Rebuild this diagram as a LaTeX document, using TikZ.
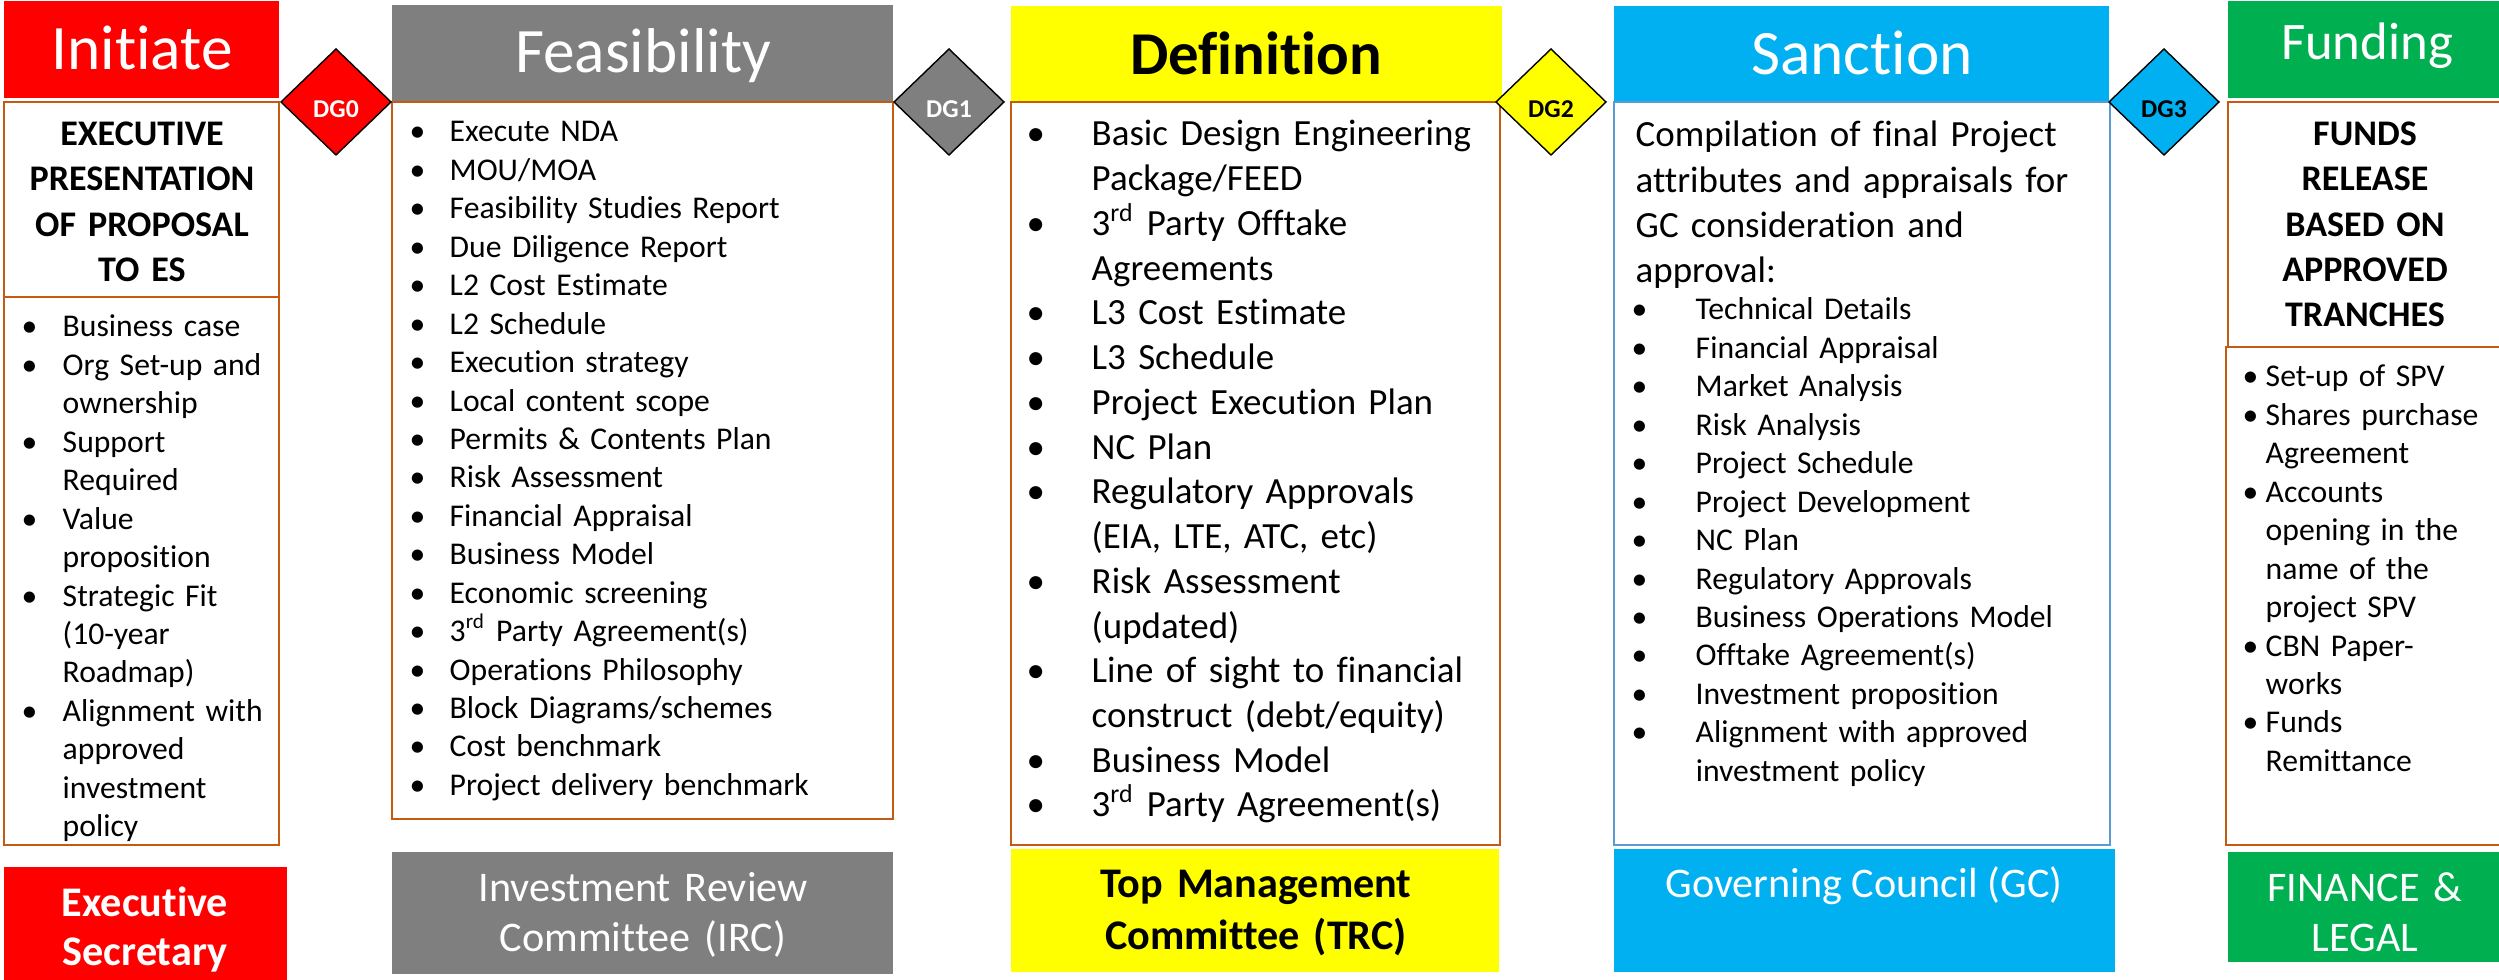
\documentclass[tikz,border=0pt]{standalone}
\usepackage{fontspec}
\setmainfont{Carlito}[Ligatures={NoCommon}]

\definecolor{initred}{RGB}{255,0,0}
\definecolor{feasgray}{RGB}{127,127,127}
\definecolor{defyellow}{RGB}{255,255,0}
\definecolor{sanccyan}{RGB}{0,176,240}
\definecolor{fundgreen}{RGB}{0,176,80}
\definecolor{boxorange}{RGB}{197,90,17}
\definecolor{boxblue}{RGB}{91,155,213}

% bullet item with hanging indent
\newlength{\bulind}
\newcommand{\bul}[1]{\hangindent=\bulind\hangafter=1\noindent\makebox[\bulind][l]{\textbullet}#1\par}

\tikzset{
  phase/.style={anchor=base, inner sep=0pt, font=\fontsize{18}{21}\selectfont},
  gate/.style={draw=black, line width=0.4pt},
  gatetxt/.style={anchor=base, inner sep=0pt, font=\bfseries\fontsize{7.3}{8}\selectfont},
  lst/.style={anchor=base west, inner sep=0pt, align=left,
    font=\fontsize{9}{10.93}\selectfont,
    execute at begin node={\setlength{\bulind}{#1}}},
  caps/.style={anchor=base, inner sep=0pt, align=center,
    font=\bfseries\fontsize{10.25}{12.8}\selectfont},
  owner/.style={anchor=base, inner sep=0pt, align=center,
    font=\fontsize{12}{14.2}\selectfont},
  frame/.style={draw=boxorange, line width=0.6pt}
}

\begin{document}
\begin{tikzpicture}[x=0.01cm, y=-0.01cm]
\useasboundingbox (0,0) rectangle (2499,980);

% Initiate
\fill[initred] (4,1) rectangle (279,98);
\node[phase, text=white] (initiate) at (142,70) {Initiate};
\draw[frame] (4,102) rectangle (279,297);
\draw[frame] (4,297) rectangle (279,845);
\node[caps, text width=2.6cm] (initcaps) at (142,146) {EXECUTIVE\\PRESENTATION\\OF PROPOSAL\\TO ES};
\node[lst=0.41cm, text width=2.55cm] (initlist) at (21,337) {%
  \bul{Business case}%
  \bul{Org Set-up and\newline ownership}%
  \bul{Support\newline Required}%
  \bul{Value\newline proposition}%
  \bul{Strategic Fit\newline (10-year\newline Roadmap)}%
  \bul{Alignment with\newline approved\newline investment\newline policy}};
\fill[initred] (4,867) rectangle (287,985);
\node[owner, text=white, font=\bfseries\fontsize{12}{13.7}\selectfont, text width=2.7cm] (execsec) at (145,917) {Executive\\Secretary};

% Feasibility
\fill[feasgray] (392,5) rectangle (893,101);
\node[phase, text=white] (feasibility) at (643,73) {Feasibility};
\draw[frame] (392,102) rectangle (893,819);
\node[lst=0.4cm, text width=4.7cm] (feaslist) at (409,142) {%
  \bul{Execute NDA}%
  \bul{MOU/MOA}%
  \bul{Feasibility Studies Report}%
  \bul{Due Diligence Report}%
  \bul{L2 Cost Estimate}%
  \bul{L2 Schedule}%
  \bul{Execution strategy}%
  \bul{Local content scope}%
  \bul{Permits \& Contents Plan}%
  \bul{Risk Assessment}%
  \bul{Financial Appraisal}%
  \bul{Business Model}%
  \bul{Economic screening}%
  \bul{3\textsuperscript{rd} Party Agreement(s)}%
  \bul{Operations Philosophy}%
  \bul{Block Diagrams/schemes}%
  \bul{Cost benchmark}%
  \bul{Project delivery benchmark}};
\fill[feasgray] (392,852) rectangle (893,974);
\node[owner, text=white, text width=4.8cm] (irc) at (643,902) {Investment Review\\Committee (IRC)};

% Definition
\fill[defyellow] (1011,6) rectangle (1502,102);
\node[phase, font=\bfseries\fontsize{17.3}{20}\selectfont] (definition) at (1256,75) {Definition};
\draw[frame] (1011,102) rectangle (1500,845);
\node[lst=0.65cm, font=\fontsize{10.5}{12.72}\selectfont, text width=4.7cm] (deflist) at (1026,146) {%
  \bul{Basic Design Engineering\newline Package/FEED}%
  \bul{3\textsuperscript{rd} Party Offtake\newline Agreements}%
  \bul{L3 Cost Estimate}%
  \bul{L3 Schedule}%
  \bul{Project Execution Plan}%
  \bul{NC Plan}%
  \bul{Regulatory Approvals\newline (EIA, LTE, ATC, etc)}%
  \bul{Risk Assessment\newline (updated)}%
  \bul{Line of sight to financial\newline construct (debt/equity)}%
  \bul{Business Model}%
  \bul{3\textsuperscript{rd} Party Agreement(s)}};
\fill[defyellow] (1011,849) rectangle (1499,972);
\node[owner, font=\bfseries\fontsize{12}{14.7}\selectfont, text width=4.8cm] (trc) at (1256,898) {Top Management\\Committee (TRC)};

% Sanction
\fill[sanccyan] (1614,6) rectangle (2109,102);
\node[phase, text=white] (sanction) at (1862,75) {Sanction};
\draw[boxblue, line width=0.4pt] (1614,102) rectangle (2110,845);
\node[anchor=base west, inner sep=0pt, align=left, text width=4.7cm, font=\fontsize{10.5}{12.8}\selectfont] (sancpara) at (1635,147)
  {Compilation of final Project\\attributes and appraisals for\\GC consideration and\\approval:};
\node[lst=0.64cm, text width=4.6cm] (sanclist) at (1631,320) {%
  \bul{Technical Details}%
  \bul{Financial Appraisal}%
  \bul{Market Analysis}%
  \bul{Risk Analysis}%
  \bul{Project Schedule}%
  \bul{Project Development}%
  \bul{NC Plan}%
  \bul{Regulatory Approvals}%
  \bul{Business Operations Model}%
  \bul{Offtake Agreement(s)}%
  \bul{Investment proposition}%
  \bul{Alignment with approved\newline investment policy}};
\fill[sanccyan] (1614,849) rectangle (2115,972);
\node[owner, text=white] (gc) at (1864,898) {Governing Council (GC)};

% Funding
\fill[fundgreen] (2228,1) rectangle (2510,98);
\node[phase, text=white, font=\fontsize{15}{18}\selectfont] (funding) at (2367,60) {Funding};
\draw[frame] (2228,102) rectangle (2510,347);
\draw[frame] (2226,347) rectangle (2510,845);
\node[caps, text width=2.6cm] (fundcaps) at (2365,146) {FUNDS\\RELEASE\\BASED ON\\APPROVED\\TRANCHES};
\node[lst=0.23cm, text width=2.5cm] (fundlist) at (2242,387) {%
  \bul{Set-up of SPV}%
  \bul{Shares purchase\newline Agreement}%
  \bul{Accounts\newline opening in the\newline name of the\newline project SPV}%
  \bul{CBN Paper-\newline works}%
  \bul{Funds\newline Remittance}};
\fill[fundgreen] (2228,852) rectangle (2510,962);
\node[owner, text=white, text width=2.6cm] (finlegal) at (2365,902) {FINANCE \&\\LEGAL};

% decision gates
\foreach \gx/\gfill/\gtext/\gn in {336/initred/white/0, 949/feasgray/white/1, 1551/defyellow/black/2, 2164/sanccyan/black/3}{
  \filldraw[gate, fill=\gfill] (\gx,49) -- ++(55,53) -- ++(-55,53) -- ++(-55,-53) -- cycle;
  \node[gatetxt, text=\gtext] (dg\gn) at (\gx,118) {DG\gn};
}
\end{tikzpicture}
\end{document}
